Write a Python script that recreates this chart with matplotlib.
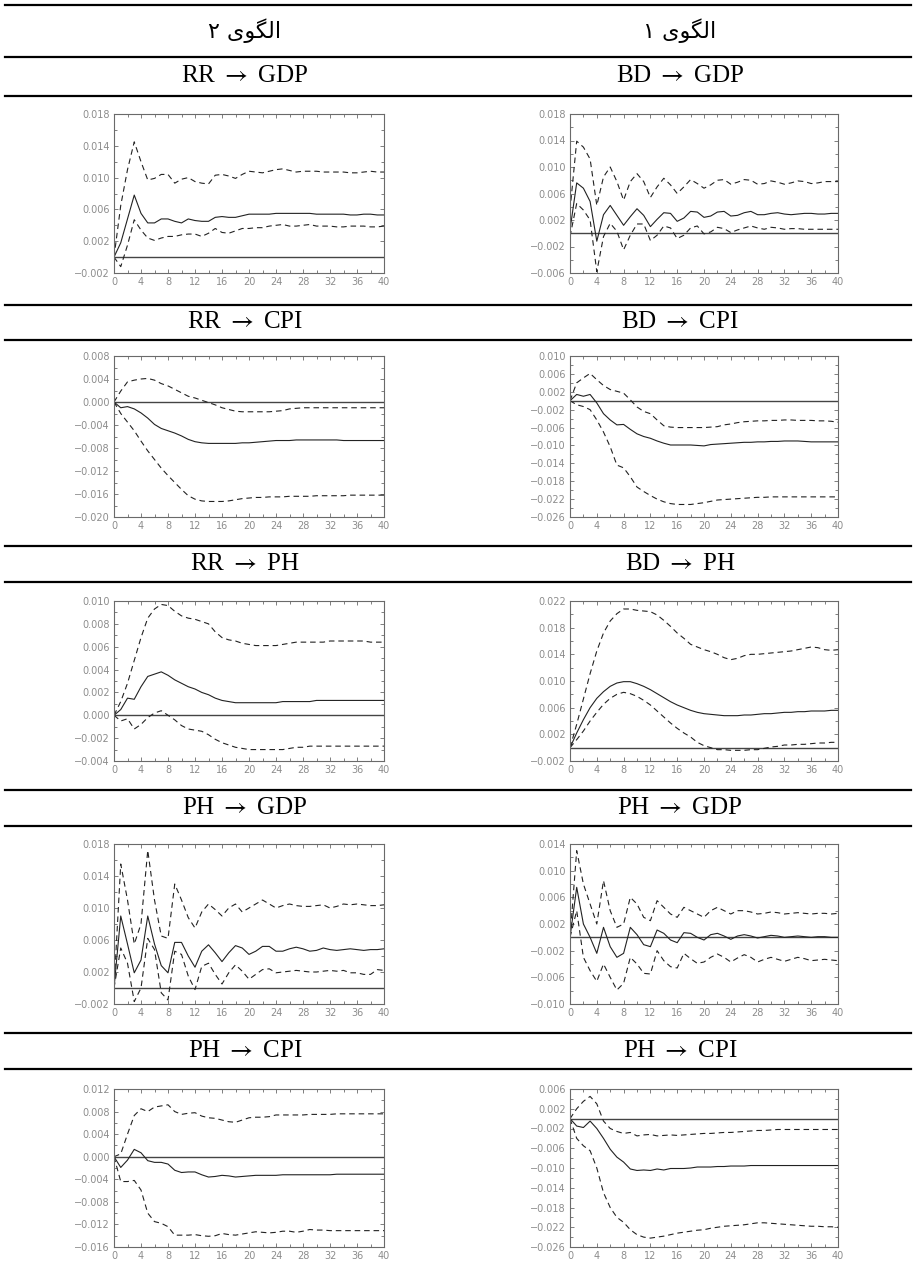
import matplotlib
matplotlib.use('Agg')
import matplotlib.pyplot as plt
from matplotlib.lines import Line2D
from matplotlib.ticker import MultipleLocator, FuncFormatter

horizon = list(range(41))

# --- RR -> GDP (model 2)
rr_gdp = [0, 0.0018, 0.0048, 0.0078, 0.0055, 0.0043, 0.0043, 0.0048, 0.0048, 0.0045,
          0.0043, 0.0048, 0.0046, 0.0045, 0.0045, 0.0050, 0.0051, 0.0050, 0.0050, 0.0052,
          0.0054, 0.0054, 0.0054, 0.0054, 0.0055, 0.0055, 0.0055, 0.0055, 0.0055, 0.0055,
          0.0054, 0.0054, 0.0054, 0.0054, 0.0054, 0.0053, 0.0053, 0.0054, 0.0054, 0.0053, 0.0053]
rr_gdp_up = [0, 0.0065, 0.0110, 0.0145, 0.0120, 0.0097, 0.0099, 0.0104, 0.0104, 0.0093,
             0.0098, 0.0100, 0.0095, 0.0093, 0.0092, 0.0103, 0.0104, 0.0102, 0.0099, 0.0104,
             0.0108, 0.0107, 0.0106, 0.0108, 0.0110, 0.0111, 0.0109, 0.0107, 0.0108, 0.0108,
             0.0108, 0.0107, 0.0107, 0.0107, 0.0107, 0.0106, 0.0106, 0.0107, 0.0108, 0.0107, 0.0107]
rr_gdp_lo = [0, -0.0012, 0.0015, 0.0047, 0.0034, 0.0024, 0.0021, 0.0024, 0.0026, 0.0026,
             0.0028, 0.0029, 0.0029, 0.0026, 0.0030, 0.0036, 0.0031, 0.0030, 0.0033, 0.0036,
             0.0036, 0.0037, 0.0037, 0.0039, 0.0040, 0.0041, 0.0039, 0.0039, 0.0040, 0.0041,
             0.0039, 0.0039, 0.0039, 0.0038, 0.0038, 0.0039, 0.0039, 0.0039, 0.0038, 0.0038, 0.0039]

# --- BD -> GDP (model 1)
bd_gdp = [0.0005, 0.0076, 0.0068, 0.0048, -0.0012, 0.0028, 0.0042, 0.0027, 0.0012, 0.0025,
          0.0037, 0.0027, 0.0010, 0.0021, 0.0031, 0.0030, 0.0018, 0.0023, 0.0033, 0.0032,
          0.0024, 0.0026, 0.0032, 0.0033, 0.0026, 0.0027, 0.0031, 0.0033, 0.0028, 0.0028,
          0.0030, 0.0031, 0.0029, 0.0028, 0.0029, 0.0030, 0.0030, 0.0029, 0.0029, 0.0030, 0.0030]
bd_gdp_up = [0.0035, 0.0139, 0.0130, 0.0112, 0.0042, 0.0085, 0.0100, 0.0078, 0.0050, 0.0078,
             0.0090, 0.0078, 0.0054, 0.0070, 0.0083, 0.0073, 0.0060, 0.0070, 0.0081, 0.0075,
             0.0068, 0.0073, 0.0080, 0.0081, 0.0074, 0.0077, 0.0081, 0.0080, 0.0074, 0.0075,
             0.0079, 0.0077, 0.0074, 0.0076, 0.0079, 0.0078, 0.0075, 0.0076, 0.0078, 0.0078, 0.0078]
bd_gdp_lo = [-0.0005, 0.0045, 0.0035, 0.0020, -0.0058, -0.0005, 0.0015, 0.0003, -0.0025, -0.0003,
             0.0014, 0.0014, -0.0011, -0.0003, 0.0011, 0.0008, -0.0008, -0.0003, 0.0008, 0.0011,
             -0.0001, 0.0002, 0.0009, 0.0007, 0.0001, 0.0005, 0.0008, 0.0011, 0.0008, 0.0006,
             0.0009, 0.0008, 0.0006, 0.0007, 0.0007, 0.0006, 0.0006, 0.0006, 0.0006, 0.0006, 0.0006]

# --- RR -> CPI (model 2)
rr_cpi = [0, -0.0010, -0.0008, -0.0012, -0.0019, -0.0028, -0.0039, -0.0046, -0.0050, -0.0054,
          -0.0059, -0.0065, -0.0069, -0.0071, -0.0072, -0.0072, -0.0072, -0.0072, -0.0072, -0.0071,
          -0.0071, -0.0070, -0.0069, -0.0068, -0.0067, -0.0067, -0.0067, -0.0066, -0.0066, -0.0066,
          -0.0066, -0.0066, -0.0066, -0.0066, -0.0067, -0.0067, -0.0067, -0.0067, -0.0067, -0.0067, -0.0067]
rr_cpi_up = [0, 0.0019, 0.0035, 0.0038, 0.0040, 0.0041, 0.0038, 0.0032, 0.0028, 0.0022,
             0.0016, 0.0010, 0.0007, 0.0003, -0.0001, -0.0005, -0.0010, -0.0013, -0.0016, -0.0017,
             -0.0017, -0.0017, -0.0017, -0.0017, -0.0016, -0.0015, -0.0012, -0.0011, -0.0010, -0.0010,
             -0.0010, -0.0010, -0.0010, -0.0010, -0.0010, -0.0010, -0.0010, -0.0010, -0.0010, -0.0010, -0.0010]
rr_cpi_lo = [0, -0.0020, -0.0035, -0.0050, -0.0068, -0.0085, -0.0100, -0.0115, -0.0128, -0.0140,
             -0.0152, -0.0163, -0.0169, -0.0172, -0.0173, -0.0173, -0.0173, -0.0172, -0.0170, -0.0168,
             -0.0167, -0.0166, -0.0166, -0.0165, -0.0165, -0.0165, -0.0164, -0.0164, -0.0164, -0.0164,
             -0.0163, -0.0163, -0.0163, -0.0163, -0.0163, -0.0162, -0.0162, -0.0162, -0.0162, -0.0162, -0.0162]

# --- BD -> CPI (model 1)
bd_cpi = [0, 0.0014, 0.0010, 0.0014, -0.0005, -0.0029, -0.0043, -0.0054, -0.0053, -0.0064,
          -0.0074, -0.0080, -0.0084, -0.0090, -0.0095, -0.0099, -0.0099, -0.0099, -0.0099, -0.0100,
          -0.0101, -0.0098, -0.0097, -0.0096, -0.0095, -0.0094, -0.0093, -0.0093, -0.0092, -0.0092,
          -0.0091, -0.0091, -0.0090, -0.0090, -0.0090, -0.0091, -0.0092, -0.0092, -0.0092, -0.0092, -0.0092]
bd_cpi_up = [0, 0.0040, 0.0051, 0.0061, 0.0047, 0.0034, 0.0025, 0.0021, 0.0017, 0.0002,
             -0.0014, -0.0024, -0.0029, -0.0043, -0.0056, -0.0059, -0.0060, -0.0060, -0.0060, -0.0060,
             -0.0060, -0.0059, -0.0058, -0.0054, -0.0052, -0.0049, -0.0047, -0.0046, -0.0045, -0.0045,
             -0.0044, -0.0044, -0.0043, -0.0043, -0.0044, -0.0044, -0.0044, -0.0045, -0.0045, -0.0046, -0.0048]
bd_cpi_lo = [0, -0.0009, -0.0013, -0.0020, -0.0043, -0.0070, -0.0103, -0.0144, -0.0150, -0.0170,
             -0.0193, -0.0203, -0.0212, -0.0220, -0.0226, -0.0230, -0.0232, -0.0232, -0.0232, -0.0230,
             -0.0228, -0.0225, -0.0222, -0.0221, -0.0220, -0.0219, -0.0218, -0.0217, -0.0216, -0.0216,
             -0.0215, -0.0215, -0.0215, -0.0215, -0.0215, -0.0215, -0.0215, -0.0215, -0.0215, -0.0215, -0.0215]

# --- RR -> PH (model 2)
rr_ph = [0, 0.0005, 0.0015, 0.0014, 0.0025, 0.0034, 0.0036, 0.0038, 0.0035, 0.0031,
         0.0028, 0.0025, 0.0023, 0.0020, 0.0018, 0.0015, 0.0013, 0.0012, 0.0011, 0.0011,
         0.0011, 0.0011, 0.0011, 0.0011, 0.0011, 0.0012, 0.0012, 0.0012, 0.0012, 0.0012,
         0.0013, 0.0013, 0.0013, 0.0013, 0.0013, 0.0013, 0.0013, 0.0013, 0.0013, 0.0013, 0.0013]
rr_ph_up = [0, 0.0012, 0.0028, 0.0048, 0.0068, 0.0085, 0.0093, 0.0097, 0.0096, 0.0091,
            0.0087, 0.0085, 0.0084, 0.0082, 0.0080, 0.0073, 0.0068, 0.0066, 0.0065, 0.0063,
            0.0062, 0.0061, 0.0061, 0.0061, 0.0061, 0.0062, 0.0063, 0.0064, 0.0064, 0.0064,
            0.0064, 0.0064, 0.0065, 0.0065, 0.0065, 0.0065, 0.0065, 0.0065, 0.0064, 0.0064, 0.0064]
rr_ph_lo = [0, -0.0005, -0.0003, -0.0012, -0.0008, -0.0002, 0.0002, 0.0004, 0.0000, -0.0004,
            -0.0009, -0.0012, -0.0013, -0.0014, -0.0017, -0.0021, -0.0024, -0.0026, -0.0028, -0.0029,
            -0.0030, -0.0030, -0.0030, -0.0030, -0.0030, -0.0030, -0.0029, -0.0028, -0.0028, -0.0027,
            -0.0027, -0.0027, -0.0027, -0.0027, -0.0027, -0.0027, -0.0027, -0.0027, -0.0027, -0.0027, -0.0027]

# --- BD -> PH (model 1)
bd_ph = [0, 0.0022, 0.0042, 0.0060, 0.0074, 0.0084, 0.0092, 0.0097, 0.0099, 0.0099,
         0.0096, 0.0092, 0.0087, 0.0081, 0.0075, 0.0069, 0.0064, 0.0060, 0.0056, 0.0053,
         0.0051, 0.0050, 0.0049, 0.0048, 0.0048, 0.0048, 0.0049, 0.0049, 0.0050, 0.0051,
         0.0051, 0.0052, 0.0053, 0.0053, 0.0054, 0.0054, 0.0055, 0.0055, 0.0055, 0.0056, 0.0056]
bd_ph_up = [0, 0.0035, 0.0073, 0.0111, 0.0145, 0.0172, 0.0190, 0.0201, 0.0208, 0.0208,
            0.0206, 0.0205, 0.0204, 0.0199, 0.0191, 0.0182, 0.0172, 0.0164, 0.0155, 0.0151,
            0.0147, 0.0144, 0.0140, 0.0135, 0.0132, 0.0134, 0.0138, 0.0140, 0.0140, 0.0141,
            0.0142, 0.0143, 0.0144, 0.0145, 0.0147, 0.0149, 0.0151, 0.0150, 0.0147, 0.0146, 0.0147]
bd_ph_lo = [0, 0.0012, 0.0025, 0.0040, 0.0053, 0.0065, 0.0074, 0.0080, 0.0083, 0.0081,
            0.0077, 0.0071, 0.0064, 0.0055, 0.0046, 0.0037, 0.0029, 0.0022, 0.0016, 0.0008,
            0.0003, 0.0000, -0.0003, -0.0003, -0.0004, -0.0004, -0.0004, -0.0003, -0.0003, -0.0001,
            0.0001, 0.0002, 0.0004, 0.0004, 0.0005, 0.0005, 0.0006, 0.0007, 0.0007, 0.0008, 0.0008]

# --- PH -> GDP (model 2)
ph_gdp2 = [0, 0.0090, 0.0055, 0.0019, 0.0035, 0.0090, 0.0055, 0.0028, 0.0019, 0.0057,
           0.0057, 0.0040, 0.0026, 0.0046, 0.0054, 0.0044, 0.0033, 0.0044, 0.0053, 0.0050,
           0.0042, 0.0046, 0.0052, 0.0052, 0.0046, 0.0046, 0.0049, 0.0051, 0.0049, 0.0046,
           0.0047, 0.0050, 0.0048, 0.0047, 0.0048, 0.0049, 0.0048, 0.0047, 0.0048, 0.0048, 0.0049]
ph_gdp2_up = [0, 0.0155, 0.0110, 0.0055, 0.0080, 0.0172, 0.0110, 0.0065, 0.0062, 0.0130,
              0.0110, 0.0088, 0.0075, 0.0095, 0.0105, 0.0098, 0.0090, 0.0100, 0.0105, 0.0095,
              0.0100, 0.0105, 0.0110, 0.0105, 0.0100, 0.0103, 0.0105, 0.0103, 0.0102, 0.0102,
              0.0103, 0.0104, 0.0100, 0.0102, 0.0105, 0.0104, 0.0105, 0.0104, 0.0103, 0.0103, 0.0104]
ph_gdp2_lo = [0, 0.0050, 0.0031, -0.0017, 0.0000, 0.0062, 0.0048, -0.0006, -0.0015, 0.0046,
              0.0042, 0.0015, -0.0002, 0.0027, 0.0031, 0.0017, 0.0005, 0.0019, 0.0029, 0.0021,
              0.0011, 0.0017, 0.0023, 0.0024, 0.0019, 0.0020, 0.0021, 0.0022, 0.0021, 0.0020,
              0.0020, 0.0021, 0.0022, 0.0021, 0.0022, 0.0019, 0.0019, 0.0017, 0.0017, 0.0023, 0.0022]

# --- PH -> GDP (model 1)
ph_gdp1 = [0, 0.0075, 0.0020, 0.0000, -0.0024, 0.0015, -0.0014, -0.0030, -0.0024, 0.0015,
           0.0004, -0.0011, -0.0014, 0.0011, 0.0006, -0.0004, -0.0008, 0.0007, 0.0006, 0.0000,
           -0.0004, 0.0004, 0.0006, 0.0002, -0.0003, 0.0002, 0.0004, 0.0002, -0.0001, 0.0001,
           0.0003, 0.0002, 0.0000, 0.0001, 0.0002, 0.0001, 0.0000, 0.0001, 0.0001, 0.0000, 0.0000]
ph_gdp1_up = [0, 0.0130, 0.0080, 0.0050, 0.0020, 0.0085, 0.0040, 0.0015, 0.0020, 0.0060,
              0.0050, 0.0030, 0.0025, 0.0055, 0.0045, 0.0035, 0.0030, 0.0045, 0.0040, 0.0035,
              0.0030, 0.0040, 0.0045, 0.0040, 0.0035, 0.0040, 0.0040, 0.0038, 0.0035, 0.0036,
              0.0038, 0.0037, 0.0035, 0.0036, 0.0037, 0.0036, 0.0035, 0.0036, 0.0036, 0.0035, 0.0036]
ph_gdp1_lo = [0, 0.0040, -0.0030, -0.0050, -0.0066, -0.0040, -0.0060, -0.0079, -0.0069, -0.0030,
              -0.0040, -0.0054, -0.0055, -0.0020, -0.0035, -0.0044, -0.0046, -0.0024, -0.0032, -0.0039,
              -0.0037, -0.0030, -0.0025, -0.0030, -0.0037, -0.0031, -0.0026, -0.0030, -0.0037, -0.0033,
              -0.0030, -0.0033, -0.0036, -0.0033, -0.0030, -0.0032, -0.0035, -0.0034, -0.0033, -0.0034, -0.0035]

# --- PH -> CPI (model 2)
ph_cpi2 = [0, -0.0019, -0.0006, 0.0013, 0.0007, -0.0007, -0.0010, -0.0010, -0.0013, -0.0024,
           -0.0028, -0.0027, -0.0027, -0.0032, -0.0036, -0.0035, -0.0033, -0.0034, -0.0036, -0.0035,
           -0.0034, -0.0033, -0.0033, -0.0033, -0.0033, -0.0032, -0.0032, -0.0032, -0.0032, -0.0032,
           -0.0032, -0.0032, -0.0032, -0.0031, -0.0031, -0.0031, -0.0031, -0.0031, -0.0031, -0.0031, -0.0031]
ph_cpi2_up = [0, 0.0005, 0.0040, 0.0073, 0.0085, 0.0080, 0.0088, 0.0090, 0.0092, 0.0080,
              0.0075, 0.0077, 0.0078, 0.0072, 0.0069, 0.0068, 0.0065, 0.0062, 0.0061, 0.0065,
              0.0069, 0.0070, 0.0070, 0.0071, 0.0074, 0.0074, 0.0074, 0.0074, 0.0074, 0.0075,
              0.0075, 0.0075, 0.0075, 0.0076, 0.0076, 0.0076, 0.0076, 0.0076, 0.0076, 0.0076, 0.0076]
ph_cpi2_lo = [0, -0.0044, -0.0044, -0.0042, -0.0059, -0.0100, -0.0115, -0.0118, -0.0124, -0.0139,
              -0.0139, -0.0139, -0.0138, -0.0140, -0.0141, -0.0140, -0.0136, -0.0138, -0.0139, -0.0137,
              -0.0135, -0.0133, -0.0134, -0.0135, -0.0134, -0.0132, -0.0132, -0.0134, -0.0132, -0.0129,
              -0.0130, -0.0130, -0.0131, -0.0131, -0.0131, -0.0131, -0.0131, -0.0131, -0.0131, -0.0131, -0.0131]

# --- PH -> CPI (model 1)
ph_cpi1 = [0, -0.0015, -0.0018, -0.0005, -0.0020, -0.0040, -0.0062, -0.0078, -0.0088, -0.0102,
           -0.0105, -0.0104, -0.0105, -0.0102, -0.0104, -0.0101, -0.0101, -0.0101, -0.0100, -0.0098,
           -0.0098, -0.0098, -0.0097, -0.0097, -0.0096, -0.0096, -0.0096, -0.0095, -0.0095, -0.0095,
           -0.0095, -0.0095, -0.0095, -0.0095, -0.0095, -0.0095, -0.0095, -0.0095, -0.0095, -0.0095, -0.0095]
ph_cpi1_up = [0, 0.0020, 0.0035, 0.0045, 0.0030, -0.0005, -0.0020, -0.0026, -0.0030, -0.0028,
              -0.0035, -0.0033, -0.0032, -0.0035, -0.0034, -0.0033, -0.0034, -0.0033, -0.0032, -0.0031,
              -0.0030, -0.0030, -0.0029, -0.0028, -0.0028, -0.0027, -0.0026, -0.0025, -0.0024, -0.0024,
              -0.0023, -0.0022, -0.0022, -0.0022, -0.0022, -0.0022, -0.0022, -0.0022, -0.0022, -0.0022, -0.0022]
ph_cpi1_lo = [0, -0.0040, -0.0055, -0.0065, -0.0100, -0.0150, -0.0180, -0.0200, -0.0210, -0.0225,
              -0.0235, -0.0240, -0.0242, -0.0240, -0.0238, -0.0235, -0.0232, -0.0230, -0.0228, -0.0226,
              -0.0225, -0.0222, -0.0220, -0.0218, -0.0217, -0.0216, -0.0215, -0.0213, -0.0211, -0.0211,
              -0.0212, -0.0213, -0.0214, -0.0215, -0.0216, -0.0217, -0.0218, -0.0218, -0.0219, -0.0219, -0.0220]

# column headers (Persian, pre-shaped glyphs, visual order)
header_model2 = '\u06F2 \uFBFC\uFEEE\uFB95\uFEDF\uFE8D'   # الگوی ۲
header_model1 = '\u06F1 \uFBFC\uFEEE\uFB95\uFEDF\uFE8D'   # الگوی ۱

titles_left = [('RR', 'GDP'), ('RR', 'CPI'), ('RR', 'PH'), ('PH', 'GDP'), ('PH', 'CPI')]
titles_right = [('BD', 'GDP'), ('BD', 'CPI'), ('BD', 'PH'), ('PH', 'GDP'), ('PH', 'CPI')]

left_panels = [
    (rr_gdp, rr_gdp_up, rr_gdp_lo, -0.002, 0.018, 0.004),
    (rr_cpi, rr_cpi_up, rr_cpi_lo, -0.020, 0.008, 0.004),
    (rr_ph, rr_ph_up, rr_ph_lo, -0.004, 0.010, 0.002),
    (ph_gdp2, ph_gdp2_up, ph_gdp2_lo, -0.002, 0.018, 0.004),
    (ph_cpi2, ph_cpi2_up, ph_cpi2_lo, -0.016, 0.012, 0.004),
]
right_panels = [
    (bd_gdp, bd_gdp_up, bd_gdp_lo, -0.006, 0.018, 0.004),
    (bd_cpi, bd_cpi_up, bd_cpi_lo, -0.026, 0.010, 0.004),
    (bd_ph, bd_ph_up, bd_ph_lo, -0.002, 0.022, 0.004),
    (ph_gdp1, ph_gdp1_up, ph_gdp1_lo, -0.010, 0.014, 0.004),
    (ph_cpi1, ph_cpi1_up, ph_cpi1_lo, -0.026, 0.006, 0.004),
]

plt.rcParams['mathtext.fontset'] = 'stix'

W, H = 916, 1274
fig = plt.figure(figsize=(W / 100, H / 100), dpi=100)

# layout in pixels (from top)
rule_y = [5, 57, 96, 305, 340, 546, 582, 790, 826, 1033, 1069]
title_y = [76, 322, 564, 808, 1051]
axes_y = [(114, 273), (356, 517), (601, 761), (844, 1004), (1089, 1247)]
col_x = [(114, 384), (570, 838)]
col_center = [245, 680]

spine_col = '#6a6a6a'
label_col = '#8c8c8c'
line_col = '#222222'


def fy(px):
    return 1 - px / H


def fmt(v, pos):
    s = '%.3f' % v
    if s == '-0.000':
        s = '0.000'
    return s.replace('-', '\u2212')


for y in rule_y:
    fig.add_artist(Line2D([5 / W, 911 / W], [fy(y), fy(y)], transform=fig.transFigure,
                          color='black', lw=1.6))

fig.text(col_center[0] / W, fy(31), header_model2, ha='center', va='center',
         fontsize=16, family=['DejaVu Sans'])
fig.text(col_center[1] / W, fy(31), header_model1, ha='center', va='center',
         fontsize=16, family=['DejaVu Sans'])


def draw_panel(col, row, title, data):
    irf, up, lo, ymin, ymax, step = data
    x0, x1 = col_x[col]
    top, bot = axes_y[row]
    ax = fig.add_axes([x0 / W, fy(bot), (x1 - x0) / W, (bot - top) / H])
    ax.axhline(0, color='#444444', lw=1.0)
    ax.plot(horizon, irf, color=line_col, lw=0.8)
    ax.plot(horizon, up, color=line_col, lw=0.8, ls=(0, (5, 3.5)))
    ax.plot(horizon, lo, color=line_col, lw=0.8, ls=(0, (5, 3.5)))
    ax.set_xlim(0, 40)
    ax.set_ylim(ymin, ymax)
    ax.xaxis.set_major_locator(MultipleLocator(4))
    ax.xaxis.set_minor_locator(MultipleLocator(2))
    ax.set_yticks([ymin + k * step for k in range(int(round((ymax - ymin) / step)) + 1)])
    ax.yaxis.set_minor_locator(MultipleLocator(step / 2))
    ax.yaxis.set_major_formatter(FuncFormatter(fmt))
    ax.tick_params(which='both', direction='in', top=True, right=True,
                   color=spine_col, width=0.6, labelsize=7, labelcolor=label_col, pad=3)
    ax.tick_params(which='major', length=3)
    ax.tick_params(which='minor', length=2)
    for s in ax.spines.values():
        s.set_color(spine_col)
        s.set_linewidth(0.8)
    src, dst = title
    fig.text(col_center[col] / W, fy(title_y[row]), src + r' $\rightarrow$ ' + dst,
             ha='center', va='center', fontsize=18, family=['Liberation Serif', 'DejaVu Serif'])


for r in range(5):
    draw_panel(0, r, titles_left[r], left_panels[r])
    draw_panel(1, r, titles_right[r], right_panels[r])

fig.savefig('out.png', dpi=100, facecolor='white')
